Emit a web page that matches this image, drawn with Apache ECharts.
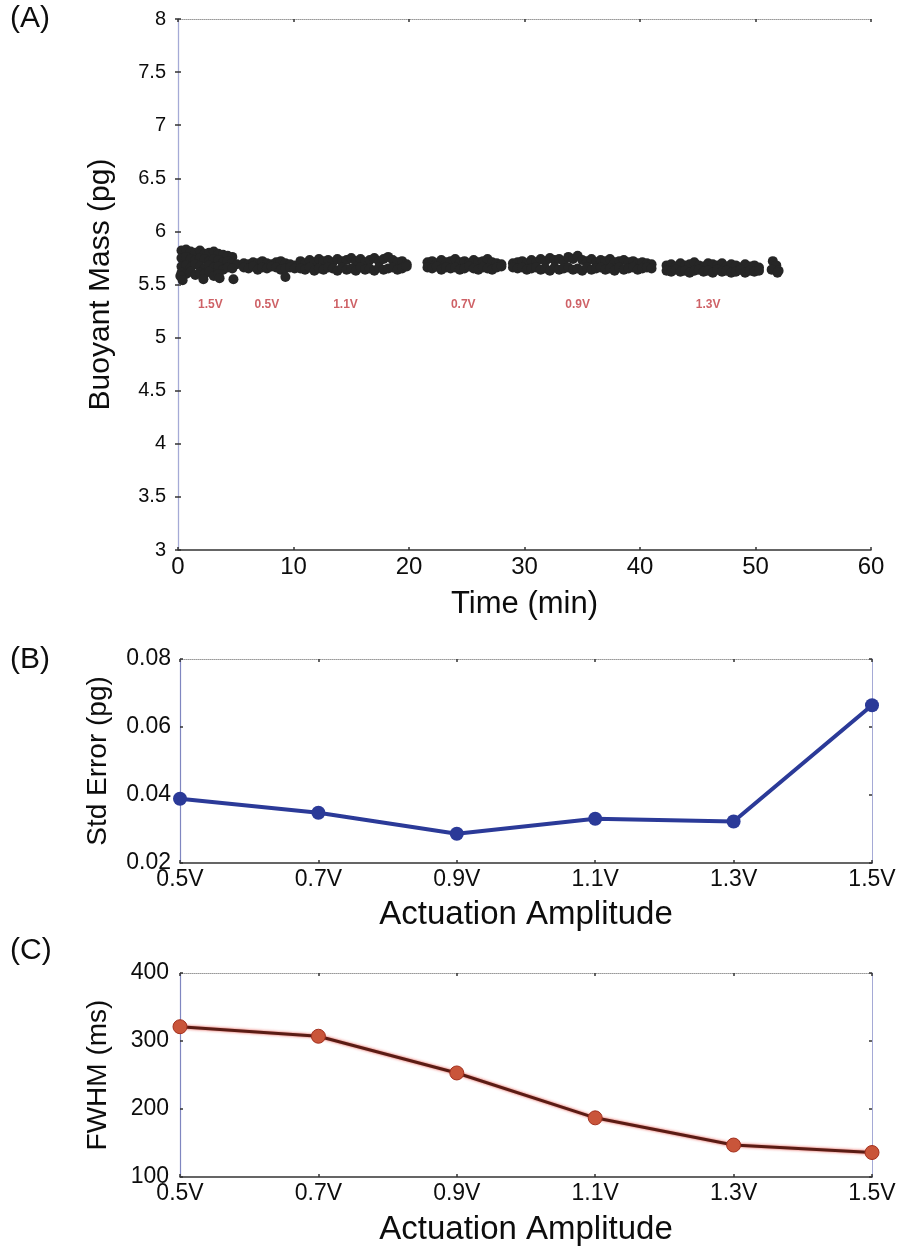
<!DOCTYPE html>
<html><head><meta charset="utf-8">
<script src="https://cdn.jsdelivr.net/npm/echarts@6/dist/echarts.min.js"></script>
<style>html,body{margin:0;padding:0;background:#fff}#c{width:900px;height:1247px}</style>
</head><body><div id="c"></div>
<script>
// ---------- Panel A data (time in min, buoyant mass in pg) ----------
const t15 = [0.3,0.7,1.1,1.5,1.9,2.3,2.7,3.1,3.5,3.9,4.3,4.7,5.1];
const y15a = [5.82,5.83,5.81,5.80,5.82,5.79,5.80,5.81,5.79,5.78,5.77,5.76];
const y15b = [5.75,5.76,5.74,5.73,5.75,5.74,5.72,5.74,5.73,5.71,5.72,5.70,5.69];
const y15c = [5.67,5.68,5.66,5.69,5.67,5.65,5.68,5.66,5.67,5.64,5.66,5.65];
const y15d = [5.61,5.60,5.62,5.59,5.61,5.60,5.62,5.58,5.60];
const out15 = [[0.2,5.58],[0.4,5.54],[2.2,5.55],[3.6,5.56],[4.8,5.55]];

const t05 = [5.7,6.1,6.5,6.9,7.3,7.7,8.1,8.5,8.9,9.3,9.7,10.1];
const y05a = [5.70,5.69,5.71,5.70,5.72,5.70,5.69,5.71,5.72,5.70,5.69,5.68];
const y05b = [5.66,5.65,5.67,5.64,5.66,5.65,5.67,5.66,5.64,5.65,5.66,5.65];
const out05 = [[9.3,5.57]];

const t11 = [10.6,11.0,11.4,11.8,12.2,12.6,13.0,13.4,13.8,14.2,14.6,15.0,15.4,15.8,16.2,16.6,17.0,17.4,17.8,18.2,18.6,19.0,19.4,19.8];
const y11a = [5.72,5.70,5.73,5.71,5.74,5.72,5.73,5.71,5.74,5.72,5.73,5.75,5.72,5.74,5.71,5.73,5.75,5.72,5.74,5.76,5.73,5.71,5.72,5.69];
const y11b = [5.65,5.64,5.66,5.63,5.65,5.64,5.66,5.65,5.63,5.66,5.64,5.65,5.63,5.66,5.64,5.65,5.63,5.66,5.64,5.65,5.66,5.64,5.65,5.67];

const t07 = [21.6,22.0,22.4,22.8,23.2,23.6,24.0,24.4,24.8,25.2,25.6,26.0,26.4,26.8,27.2,27.6,28.0];
const y07a = [5.71,5.72,5.70,5.73,5.71,5.72,5.74,5.71,5.72,5.70,5.73,5.71,5.72,5.74,5.71,5.70,5.69];
const y07b = [5.66,5.65,5.67,5.64,5.66,5.65,5.66,5.64,5.65,5.67,5.65,5.64,5.66,5.65,5.64,5.66,5.67];

const t09 = [29.0,29.4,29.8,30.2,30.6,31.0,31.4,31.8,32.2,32.6,33.0,33.4,33.8,34.2,34.6,35.0,35.4,35.8,36.2,36.6,37.0,37.4,37.8,38.2,38.6,39.0,39.4,39.8,40.2,40.6,41.0];
const y09a = [5.70,5.71,5.72,5.70,5.73,5.71,5.74,5.72,5.75,5.73,5.74,5.72,5.76,5.74,5.77,5.73,5.72,5.74,5.71,5.73,5.72,5.74,5.71,5.72,5.73,5.71,5.72,5.70,5.71,5.70,5.69];
const y09b = [5.66,5.65,5.66,5.64,5.65,5.66,5.64,5.65,5.63,5.66,5.64,5.65,5.66,5.64,5.65,5.63,5.66,5.64,5.65,5.66,5.64,5.65,5.63,5.66,5.64,5.65,5.66,5.64,5.65,5.66,5.65];

const t13 = [42.3,42.7,43.1,43.5,43.9,44.3,44.7,45.1,45.5,45.9,46.3,46.7,47.1,47.5,47.9,48.3,48.7,49.1,49.5,49.9,50.3];
const y13a = [5.68,5.69,5.67,5.70,5.68,5.69,5.71,5.68,5.67,5.70,5.69,5.68,5.70,5.67,5.69,5.68,5.66,5.69,5.67,5.68,5.66];
const y13b = [5.63,5.62,5.64,5.62,5.63,5.61,5.63,5.64,5.62,5.63,5.61,5.64,5.62,5.63,5.61,5.62,5.64,5.61,5.63,5.62,5.63];
const tail = [[51.5,5.72],[51.8,5.68],[51.4,5.64],[52.0,5.63],[51.9,5.61]];

const voltLabels = ['1.5V','0.5V','1.1V','0.7V','0.9V','1.3V'];
const voltLabelTimes = [2.8,7.7,14.5,24.7,34.6,45.9];
const voltLabelY = 5.31;

// ---------- Panels B and C ----------
const amplitudes = ['0.5V','0.7V','0.9V','1.1V','1.3V','1.5V'];
const stdError = [0.0389,0.0348,0.0286,0.0330,0.0322,0.0664];
const fwhm = [321,307,253,187,147,136];

// ---------- build ----------
function zip(ts, ys){ return ys.map((y,i)=>[ts[i],y]); }
const massPoints = [].concat(
  zip(t15,y15a), zip(t15,y15b), zip(t15,y15c), zip(t15,y15d), out15,
  zip(t05,y05a), zip(t05,y05b), out05,
  zip(t11,y11a), zip(t11,y11b),
  zip(t07,y07a), zip(t07,y07b),
  zip(t09,y09a), zip(t09,y09b),
  zip(t13,y13a), zip(t13,y13b), tail
);

const FONT = '"Liberation Sans", Arial, Helvetica, sans-serif';
const TXT = '#0d0d0d';
const frameL = '#7f86c0';
const frameR = '#a5aad6';

function tick(){ return {show:true, inside:true, length:3, lineStyle:{color:'#333', width:1.5}}; }
function titleStyle(sz){ return {fontSize:sz, color:TXT, fontFamily:FONT}; }

const grids = [
  {left:178, right:29, top:19, height:531},
  {left:180, right:28, top:659, height:204},
  {left:180, right:28, top:973, height:204}
];

function catPair(g, gap){
  return [
    {gridIndex:g, type:'category', data:amplitudes, boundaryGap:false, position:'bottom',
     axisLine:{show:true, onZero:false, lineStyle:{color:'#333', width:1.5}},
     axisTick:tick(), axisLabel:{fontSize:23, color:TXT, fontFamily:FONT, margin:5},
     name:'Actuation Amplitude', nameLocation:'middle', nameGap:gap, nameTextStyle:titleStyle(33)},
    {gridIndex:g, type:'category', data:amplitudes, boundaryGap:false, position:'top',
     axisLine:{show:true, onZero:false, lineStyle:{color:'#999', width:1, type:'dotted'}},
     axisTick:tick(), axisLabel:{show:false}}
  ];
}

const xAxes = [].concat(
  [
    {gridIndex:0, type:'value', min:0, max:60, interval:10, position:'bottom',
     axisLine:{show:true, onZero:false, lineStyle:{color:'#333', width:1.5}},
     axisTick:tick(), splitLine:{show:false},
     axisLabel:{fontSize:24, color:TXT, fontFamily:FONT, margin:5},
     name:'Time (min)', nameLocation:'middle', nameGap:39, nameTextStyle:titleStyle(31)},
    {gridIndex:0, type:'value', min:0, max:60, interval:10, position:'top',
     axisLine:{show:true, onZero:false, lineStyle:{color:'#999', width:1, type:'dotted'}},
     axisTick:tick(), axisLabel:{show:false}, splitLine:{show:false}}
  ],
  catPair(1, 35),
  catPair(2, 36)
);

function yPair(g, min, max, interval, name, fmt, gap, lsz, lmargin, nsz){
  return [
    {gridIndex:g, type:'value', min:min, max:max, interval:interval, position:'left',
     axisLine:{show:true, lineStyle:{color:frameL, width:1.2}},
     axisTick:tick(), splitLine:{show:false},
     axisLabel:{fontSize:lsz, color:TXT, fontFamily:FONT, margin:lmargin, formatter:fmt},
     name:name, nameLocation:'middle', nameGap:gap, nameRotate:90, nameTextStyle:titleStyle(nsz)},
    {gridIndex:g, type:'value', min:min, max:max, interval:interval, position:'right',
     axisLine:{show:true, lineStyle:{color:frameR, width:1}},
     axisTick:tick(), splitLine:{show:false}, axisLabel:{show:false}}
  ];
}
const yAxes = [].concat(
  yPair(0, 3, 8, 0.5, 'Buoyant Mass (pg)', v => String(+v.toFixed(1)), 62, 20, 12, 30),
  yPair(1, 0.02, 0.08, 0.02, 'Std Error (pg)', v => v.toFixed(2), 68, 23, 9, 28),
  yPair(2, 100, 400, 100, 'FWHM (ms)', v => String(Math.round(v)), 68, 23, 11, 28)
);

const chart = echarts.init(document.getElementById('c'), null, {renderer:'canvas'});
chart.setOption({
  backgroundColor:'#fff',
  animation:false,
  grid: grids,
  xAxis: xAxes,
  yAxis: yAxes,
  graphic: [
    {type:'text', left:10, top:4, style:{text:'(A)', fontSize:30, fill:TXT, fontFamily:FONT}},
    {type:'text', left:10, top:645, style:{text:'(B)', fontSize:30, fill:TXT, fontFamily:FONT}},
    {type:'text', left:10, top:936, style:{text:'(C)', fontSize:30, fill:TXT, fontFamily:FONT}}
  ],
  series: [
    {type:'scatter', xAxisIndex:0, yAxisIndex:0, data:massPoints, symbolSize:10,
     itemStyle:{color:'#262626', opacity:1}, silent:true},
    {type:'scatter', xAxisIndex:0, yAxisIndex:0, symbolSize:0,
     data: voltLabels.map((s,i)=>({name:s, value:[voltLabelTimes[i], voltLabelY]})),
     label:{show:true, position:'inside', formatter:'{b}', color:'#c23a40', fontSize:12, fontWeight:'bold', fontFamily:FONT}},
    {type:'line', xAxisIndex:2, yAxisIndex:2, data:stdError, symbol:'circle', symbolSize:14,
     lineStyle:{color:'#2b3a98', width:4}, itemStyle:{color:'#2b3a98'}},
    {type:'line', xAxisIndex:4, yAxisIndex:4, data:fwhm, symbol:'circle', symbolSize:14,
     lineStyle:{color:'#5a1c14', width:3, shadowColor:'rgba(220,40,30,0.8)', shadowBlur:3},
     itemStyle:{color:'#c9553a', borderColor:'#a3301e', borderWidth:1}}
  ]
});
</script></body></html>
